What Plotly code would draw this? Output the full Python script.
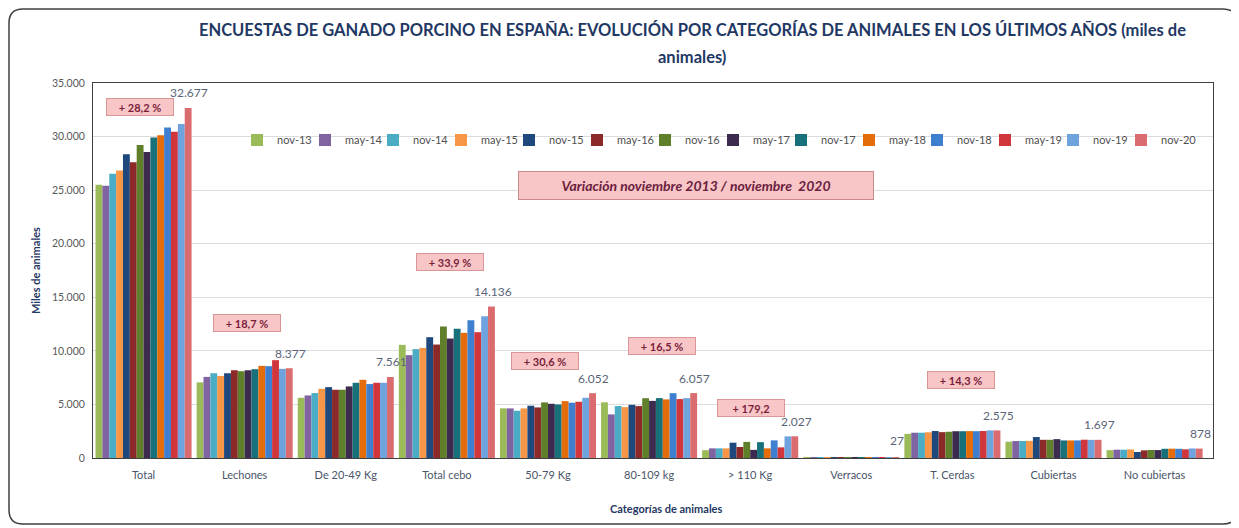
import plotly.graph_objects as go

categories = ["Total", "Lechones", "De 20-49 Kg", "Total cebo", "50-79 Kg", "80-109 kg",
              "> 110 Kg", "Verracos", "T. Cerdas", "Cubiertas", "No cubiertas"]

periods = ["nov-13", "may-14", "nov-14", "may-15", "nov-15", "may-16", "nov-16",
           "may-17", "nov-17", "may-18", "nov-18", "may-19", "nov-19", "nov-20"]

# values (miles de animales), order follows categories
nov_13 = [25495, 7057, 5620, 10559, 4634, 5199, 726, 38, 2253, 1520, 733]
may_14 = [25407, 7570, 5840, 9600, 4630, 4070, 900, 37, 2360, 1584, 777]
nov_14 = [26526, 7910, 6060, 10160, 4410, 4850, 900, 36, 2360, 1584, 777]
may_15 = [26836, 7660, 6460, 10280, 4630, 4750, 900, 36, 2400, 1600, 800]
nov_15 = [28352, 7910, 6615, 11275, 4880, 4965, 1430, 35, 2517, 1957, 560]
may_16 = [27598, 8190, 6370, 10590, 4720, 4845, 1025, 34, 2414, 1700, 714]
nov_16 = [29223, 8100, 6370, 12270, 5190, 5580, 1500, 33, 2450, 1700, 750]
may_17 = [28552, 8190, 6680, 11150, 5060, 5330, 760, 32, 2500, 1760, 740]
nov_17 = [29911, 8290, 7020, 12070, 5000, 5590, 1480, 31, 2500, 1640, 860]
may_18 = [30120, 8600, 7300, 11680, 5310, 5470, 900, 30, 2510, 1640, 870]
nov_18 = [30855, 8570, 6900, 12856, 5160, 6050, 1646, 29, 2500, 1640, 860]
may_19 = [30440, 9130, 7020, 11744, 5250, 5500, 994, 28, 2518, 1708, 810]
nov_19 = [31177, 8320, 7020, 13229, 5620, 5590, 2019, 28, 2580, 1690, 890]
nov_20 = [32677, 8377, 7561, 14136, 6052, 6057, 2027, 27, 2575, 1697, 878]

series = [nov_13, may_14, nov_14, may_15, nov_15, may_16, nov_16,
          may_17, nov_17, may_18, nov_18, may_19, nov_19, nov_20]

colors = ["#9BBB59", "#8064A2", "#4BACC6", "#F79646", "#1F497D", "#8C2A2A", "#5F7F2B",
          "#3D2B4F", "#17707A", "#E46C0A", "#3F7FCF", "#D0363C", "#6FA3DE", "#DA6B6E"]

# variation boxes: category, text, y position, pixel shift
var_cats = ["Total", "Lechones", "Total cebo", "50-79 Kg", "80-109 kg", "> 110 Kg", "T. Cerdas"]
var_texts = ["+ 28,2 %", "+ 18,7 %", "+ 33,9 %", "+ 30,6 %", "+ 16,5 %", "+ 179,2", "+ 14,3 %"]
var_y = [32790, 12590, 18300, 9040, 10490, 4690, 7265]
var_shift = [-4, 2, 3, -3, 13, 1, 9]

# page body has an 8px margin; figure sized so plot lands where reference has it
OFF = 8
W, H = 1231, 520
ML, MR, MT, MB = 85, 26, 75, 70
PW = W - ML - MR
PH = H - MT - MB
BARGAP = 0.05


def px(xp):
    return (xp - OFF - ML) / PW


def py(yp):
    return (OFF + MT + PH - yp) / PH


fig = go.Figure()
for name, vals, col in zip(periods, series, colors):
    fig.add_trace(go.Bar(name=name, x=categories, y=vals,
                         marker=dict(color=col, line=dict(width=0)),
                         legendwidth=40 if name == periods[-1] else None))

ann = []
group_w = PW / len(categories) * (1 - BARGAP)
last_shift = group_w * (len(periods) - 0.5) / len(periods) - group_w / 2
for c, v in zip(categories, nov_20):
    ann.append(dict(x=c, y=v, xref="x", yref="y", text=f"{v:,}".replace(",", "."),
                    showarrow=False, yanchor="middle", xanchor="center",
                    yshift=15 if v > 100 else 17, xshift=last_shift + 1,
                    font=dict(family="Lato", size=12, color="#5A6478")))
for c, t, yv, sh in zip(var_cats, var_texts, var_y, var_shift):
    ann.append(dict(x=c, y=yv, xref="x", yref="y", text="<b>" + t + "</b>", showarrow=False,
                    xanchor="center", yanchor="middle",
                    xshift=sh, width=64, height=14, bgcolor="#F8C6C6",
                    bordercolor="#D99694", borderwidth=1,
                    font=dict(family="Lato", size=11, color="#7A1E3C")))

ann.append(dict(x=px(695.5), y=py(185.5), xref="paper", yref="paper",
                xanchor="center", yanchor="middle",
                text="<b><i>Variación noviembre 2013 / noviembre  2020</i></b>",
                showarrow=False, width=352, height=25, bgcolor="#F8C6C6",
                bordercolor="#C98A8A", borderwidth=1,
                font=dict(family="Lato", size=14, color="#6B2040")))
ann.append(dict(x=px(692), y=py(30), xref="paper", yref="paper", xanchor="center", yanchor="middle",
                text="<b>ENCUESTAS DE GANADO PORCINO EN ESPAÑA: EVOLUCIÓN POR CATEGORÍAS DE ANIMALES EN LOS ÚLTIMOS AÑOS (miles de</b>",
                showarrow=False, font=dict(family="Lato", size=16.5, color="#1F3864")))
ann.append(dict(x=px(692), y=py(57), xref="paper", yref="paper", xanchor="center", yanchor="middle",
                text="<b>animales)</b>",
                showarrow=False, font=dict(family="Lato", size=16.5, color="#1F3864")))
ann.append(dict(x=px(35), y=py(270), xref="paper", yref="paper", xanchor="center", yanchor="middle",
                text="<b>Miles de animales</b>",
                textangle=-90, showarrow=False, font=dict(family="Lato", size=11, color="#1F3864")))
ann.append(dict(x=px(666), y=py(508), xref="paper", yref="paper", xanchor="center", yanchor="middle",
                text="<b>Categorías de animales</b>",
                showarrow=False, font=dict(family="Lato", size=11, color="#1F3864")))

# rounded outer border
x0, y0, x1, y1, r = 9, 9, 1237, 524, 14
path = (f"M{px(x0 + r)},{py(y0)} L{px(x1 - r)},{py(y0)} Q{px(x1)},{py(y0)} {px(x1)},{py(y0 + r)} "
        f"L{px(x1)},{py(y1 - r)} Q{px(x1)},{py(y1)} {px(x1 - r)},{py(y1)} "
        f"L{px(x0 + r)},{py(y1)} Q{px(x0)},{py(y1)} {px(x0)},{py(y1 - r)} "
        f"L{px(x0)},{py(y0 + r)} Q{px(x0)},{py(y0)} {px(x0 + r)},{py(y0)} Z")

fig.update_layout(
    width=W, height=H,
    margin=dict(l=ML, r=MR, t=MT, b=MB),
    paper_bgcolor="white", plot_bgcolor="white",
    barmode="group", bargap=BARGAP, bargroupgap=0,
    separators=",.",
    font=dict(family="Lato", size=11, color="#595959"),
    showlegend=True,
    legend=dict(orientation="h", x=px(237), xanchor="left", y=py(140), yanchor="middle",
                entrywidth=23, entrywidthmode="pixels", itemwidth=30,
                font=dict(family="Lato", size=11, color="#505050"), bgcolor="rgba(0,0,0,0)",
                traceorder="normal"),
    xaxis=dict(showline=True, mirror=True, linecolor="#404040", linewidth=1,
               ticklabelstandoff=7,
               tickfont=dict(family="Lato", size=11, color="#4A5468"), ticks=""),
    yaxis=dict(range=[0, 35000], dtick=5000, tickformat=",d", showgrid=True,
               gridcolor="#DCDCDC", showline=True, mirror=True, linecolor="#404040",
               linewidth=1, ticks="", zeroline=False, ticklabelstandoff=5,
               tickfont=dict(family="Lato", size=10.5, color="#595959")),
    annotations=ann,
    shapes=[dict(type="path", path=path, xref="paper", yref="paper",
                 line=dict(color="#404040", width=1.5), fillcolor="rgba(0,0,0,0)", layer="below")],
)

fig.write_html("out.html")
